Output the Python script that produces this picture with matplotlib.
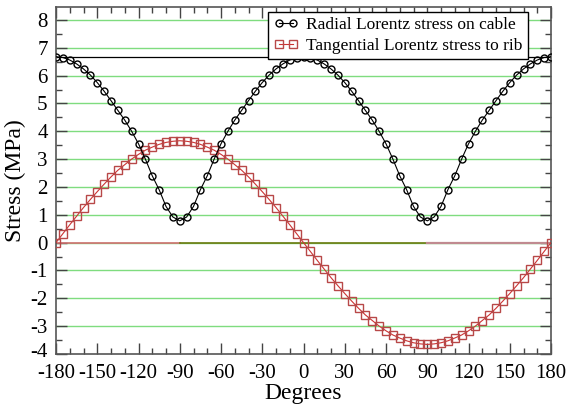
import numpy as np
import matplotlib
matplotlib.use("Agg")
import matplotlib.pyplot as plt
from matplotlib.ticker import MultipleLocator
from matplotlib.transforms import ScaledTranslation

plt.rcParams['font.family'] = ['Liberation Serif', 'DejaVu Serif']
plt.rcParams['axes.unicode_minus'] = False

# angles, read every 5 degrees
degrees = list(range(-180, 181, 5))

radial = [6.68, 6.65, 6.56, 6.42, 6.24, 6.02, 5.75, 5.44, 5.10, 4.75,
          4.40, 4.00, 3.55, 3.00, 2.40, 1.90, 1.30, 0.92, 0.78,
          0.92, 1.30, 1.90, 2.40, 3.00, 3.55, 4.00, 4.40, 4.75, 5.10,
          5.44, 5.75, 6.02, 6.24, 6.42, 6.56, 6.65, 6.68,
          6.65, 6.56, 6.42, 6.24, 6.02, 5.75, 5.44, 5.10, 4.75,
          4.40, 4.00, 3.55, 3.00, 2.40, 1.90, 1.30, 0.92, 0.78,
          0.92, 1.30, 1.90, 2.40, 3.00, 3.55, 4.00, 4.40, 4.75, 5.10,
          5.44, 5.75, 6.02, 6.24, 6.42, 6.56, 6.65, 6.68]

tangential = [0.00, 0.32, 0.64, 0.95, 1.26, 1.55, 1.83, 2.10, 2.36, 2.60,
              2.80, 3.00, 3.17, 3.32, 3.43, 3.53, 3.60, 3.64, 3.66,
              3.64, 3.60, 3.53, 3.43, 3.32, 3.17, 3.00, 2.80, 2.60, 2.36,
              2.10, 1.83, 1.55, 1.26, 0.95, 0.64, 0.32, 0.00,
              -0.32, -0.64, -0.95, -1.26, -1.55, -1.83, -2.10, -2.36, -2.60,
              -2.80, -3.00, -3.17, -3.32, -3.43, -3.53, -3.60, -3.64, -3.66,
              -3.64, -3.60, -3.53, -3.43, -3.32, -3.17, -3.00, -2.80, -2.60, -2.36,
              -2.10, -1.83, -1.55, -1.26, -0.95, -0.64, -0.32, 0.00]

peak_level = 6.68
zero_red_x = [-180, -90]
zero_olive_x = [-90, 90]
zero_pink_x = [90, 180]
grid_levels = [-3, -2, -1, 0, 1, 2, 3, 4, 5, 6, 7, 8]

fig = plt.figure(figsize=(5.68, 4.04), dpi=100)
ax = fig.add_axes([0.0986, 0.124, 0.8715, 0.859])

for g in grid_levels:
    ax.axhline(g, color='#7fdc7f', lw=1.0, zorder=1)

ax.axhline(peak_level, color='black', lw=0.9, zorder=2)
ax.plot(zero_red_x, [0, 0], color='#d07070', lw=1.2, zorder=2)
ax.plot(zero_olive_x, [0, 0], color='#6b7a10', lw=1.2, zorder=2)
ax.plot(zero_pink_x, [0, 0], color='#c08a90', lw=1.6, zorder=2)

ax.plot(degrees, radial, color='black', lw=0.8, marker='o', ms=5.0,
        mfc='none', mec='black', mew=1.0, zorder=4,
        label='Radial Lorentz stress on cable')
ax.plot(degrees, tangential, color='#cc3333', lw=0.8, marker='s', ms=6.0,
        mfc='none', mec='#b84848', mew=1.0, zorder=3,
        label='Tangential Lorentz stress to rib')

ax.set_xlim(-180, 180)
ax.set_ylim(-4, 8.47)
ax.xaxis.set_major_locator(MultipleLocator(30))
ax.xaxis.set_minor_locator(MultipleLocator(10))
ax.yaxis.set_major_locator(MultipleLocator(1))
ax.yaxis.set_minor_locator(MultipleLocator(0.5))
ax.tick_params(which='both', direction='in', top=True, right=True,
               labelsize=15, color='#444444')
ax.tick_params(which='major', length=8, width=1)
ax.tick_params(which='minor', length=4.5, width=1)
ax.tick_params(axis='x', pad=7)
ax.tick_params(axis='y', pad=6)
for s in ax.spines.values():
    s.set_color('#555555')
    s.set_linewidth(1.2)

ax.set_xlabel('Degrees', fontsize=17, labelpad=0)
ax.set_ylabel('Stress (MPa)', fontsize=17, labelpad=3)

leg = ax.legend(loc='upper right', bbox_to_anchor=(0.9535, 0.986),
                borderaxespad=0, fontsize=12.5, fancybox=False,
                framealpha=1, edgecolor='black', numpoints=2,
                handlelength=1.4, handletextpad=0.5, borderpad=0.3,
                labelspacing=0.25)
leg.get_frame().set_linewidth(1.0)

# lift the bottom y label a little so it clears -180
fig.canvas.draw()
for lab in ax.get_yticklabels():
    if lab.get_text() == '-4':
        lab.set_transform(lab.get_transform() +
                          ScaledTranslation(0, 3 / 72, fig.dpi_scale_trans))

fig.savefig('out.png', dpi=100)
